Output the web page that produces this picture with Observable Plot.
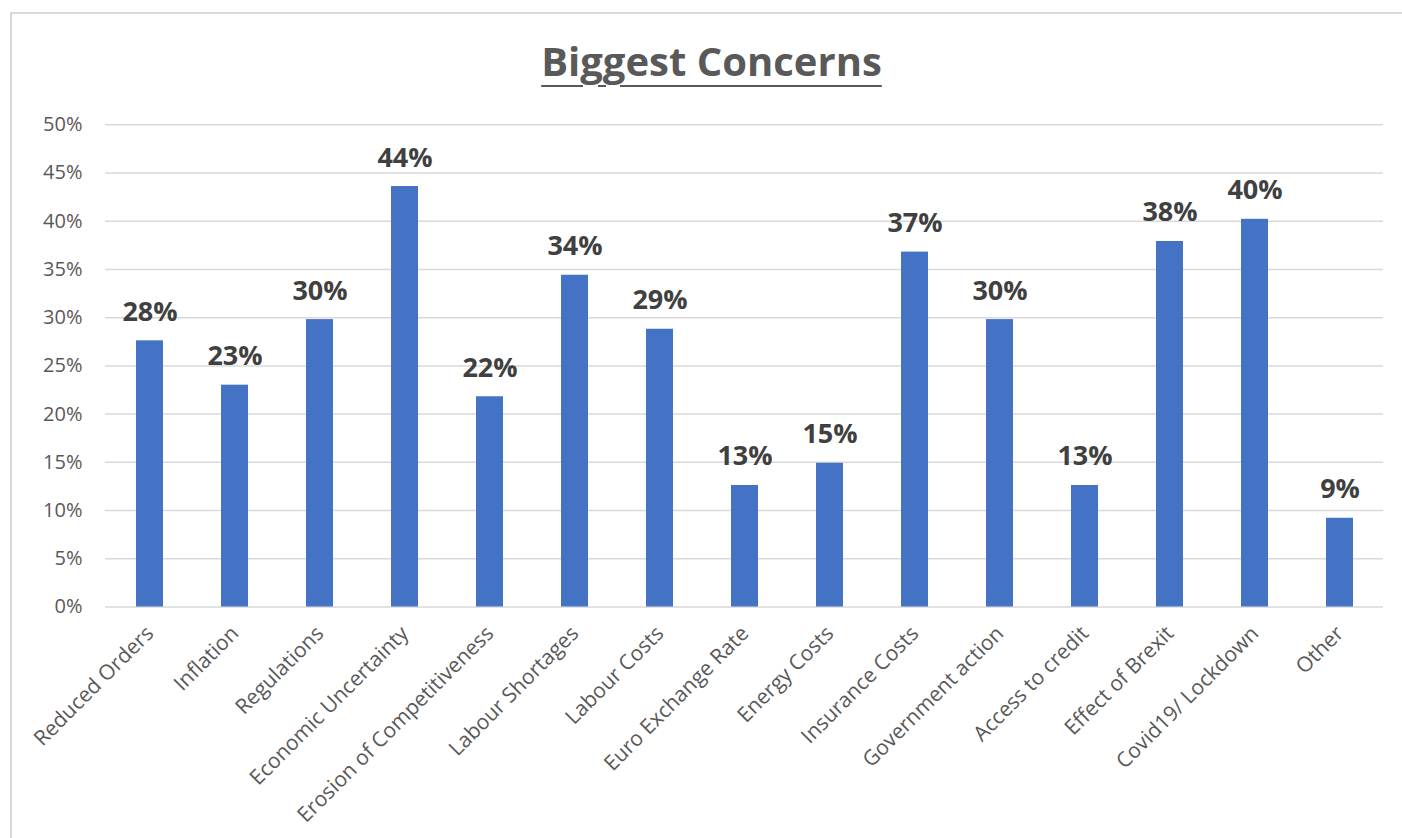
<!DOCTYPE html>
<html>
<head>
<meta charset="utf-8">
<script src="https://cdn.jsdelivr.net/npm/d3@7"></script>
<script src="https://cdn.jsdelivr.net/npm/@observablehq/plot@0.6"></script>
<style>
  html, body { margin: 0; padding: 0; background: #ffffff; }
  #wrap { position: relative; width: 1402px; height: 838px; overflow: hidden; background: #fff; }
  #frame { position: absolute; left: 10px; top: 12px; width: 1400px; height: 840px;
           border-top: 2px solid #d9d9d9; border-left: 2px solid #d9d9d9; box-sizing: border-box; }
  #title { position: absolute; left: 0; width: 1423px; top: 41px; text-align: center;
           font-family: "Open Sans", sans-serif; font-weight: 700; font-size: 40px; line-height: 40px;
           color: #595959; text-decoration: underline; text-decoration-thickness: 2px; text-underline-offset: 9px; }
  #chart { position: absolute; left: 0; top: 100px; }
</style>
</head>
<body>
<div id="wrap">
  <div id="frame"></div>
  <div id="title">Biggest Concerns</div>
  <div id="chart"></div>
</div>
<script>
const categories = ["Reduced Orders", "Inflation", "Regulations", "Economic Uncertainty",
  "Erosion of Competitiveness", "Labour Shortages", "Labour Costs", "Euro Exchange Rate",
  "Energy Costs", "Insurance Costs", "Government action", "Access to credit",
  "Effect of Brexit", "Covid19/ Lockdown", "Other"];
const values = [0.276, 0.230, 0.298, 0.436, 0.218, 0.344, 0.288, 0.126, 0.149, 0.368, 0.298, 0.126, 0.379, 0.402, 0.092];
const yTicks = [0, 0.05, 0.10, 0.15, 0.20, 0.25, 0.30, 0.35, 0.40, 0.45, 0.50];

const data = categories.map((c, i) => ({category: c, value: values[i]}));

const chart = Plot.plot({
  width: 1402,
  height: 738,
  marginLeft: 105,
  marginRight: 19,
  marginTop: 24.3,
  marginBottom: 231.5,
  style: {fontFamily: "'Open Sans', sans-serif", background: "transparent", overflow: "visible"},
  x: {domain: categories, paddingInner: 0.687, paddingOuter: 0.3435, label: null},
  y: {domain: [0, 0.5], label: null},
  marks: [
    Plot.gridY(yTicks, {stroke: "#d9d9d9", strokeOpacity: 1, strokeWidth: 1.5}),
    Plot.axisY(yTicks, {tickSize: 0, tickPadding: 23, fontSize: 20, fill: "#595959",
      tickFormat: d3.format(".0%"), label: null}),
    Plot.barY(data, {x: "category", y: "value", fill: "#4472C4"}),
    Plot.text(data, {x: "category", y: "value", text: d => d3.format(".0%")(d.value),
      lineAnchor: "bottom", dy: -20, fontSize: 27, fontWeight: "bold", fill: "#404040"}),
    Plot.axisX({tickRotate: -45, tickSize: 0, tickPadding: 23, fontSize: 21, fill: "#595959", label: null})
  ]
});
document.getElementById("chart").appendChild(chart);
</script>
</body>
</html>
